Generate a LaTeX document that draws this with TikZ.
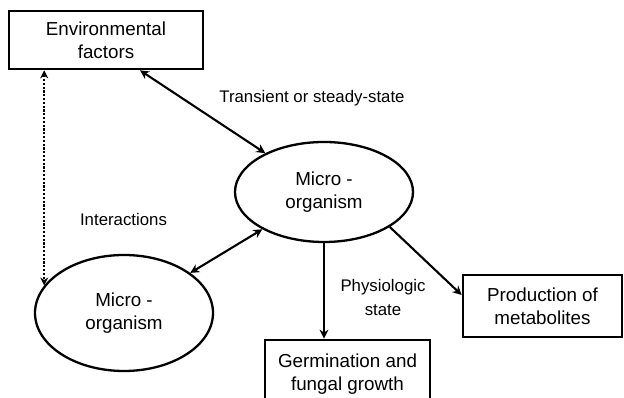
\documentclass[tikz,border=0pt]{standalone}
\usepackage{fontspec}
\setmainfont{Liberation Sans}
\usetikzlibrary{shapes.geometric,arrows.meta}
\begin{document}
\begin{tikzpicture}[x=1pt,y=1pt,
  boxtext/.style={font=\fontsize{18.8}{23}\selectfont, align=center},
  lbl/.style={font=\fontsize{16.8}{24}\selectfont, align=center, inner sep=0pt},
  bx/.style={draw, line width=2.7pt, rectangle, inner sep=0pt, boxtext},
  ell/.style={draw, line width=2.3pt, ellipse, inner sep=0pt, boxtext},
  conn/.style={line width=2.1pt, -{Stealth[length=9pt,width=9pt]}},
  conn2/.style={line width=2.1pt, {Stealth[length=9pt,width=9pt]}-{Stealth[length=9pt,width=9pt]}},
  dotconn/.style={line width=2pt, dash pattern=on 2.2pt off 1.6pt, {Stealth[length=8pt,width=8pt]}-{Stealth[length=8pt,width=8pt]}}
]
\useasboundingbox (0,0) rectangle (624,398);
\clip (0,0) rectangle (624,398);
\fill[white] (0,0) rectangle (624,398);
\node[bx, minimum width=194, minimum height=58] (env) at (106,358) {Environmental\\factors};
\node[ell, minimum width=178, minimum height=100] (top) at (324,206) {Micro -\\organism};
\node[ell, minimum width=178, minimum height=116] (low) at (124,85) {Micro -\\organism};
\node[bx, minimum width=165, minimum height=68] (germ) at (347.5,24) {Germination and\\fungal growth};
\node[bx, minimum width=159, minimum height=62] (prod) at (542.5,92) {Production of\\metabolites};
\node[lbl] (t1) at (312,300) {Transient or steady-state};
\node[lbl] (t2) at (123.5,178) {Interactions};
\node[lbl] (t3) at (383,101) {Physiologic\\state};
\draw[conn2] ([xshift=34]env.south) -- (top);
\draw[conn2] (low) -- (top);
\draw[dotconn] (env.south -| low.161) -- (low.161);
\draw[conn] (top.south) -- (top.south |- germ.north);
\draw[conn] (top.-28) -- ([yshift=11]prod.west);
\end{tikzpicture}
\end{document}
